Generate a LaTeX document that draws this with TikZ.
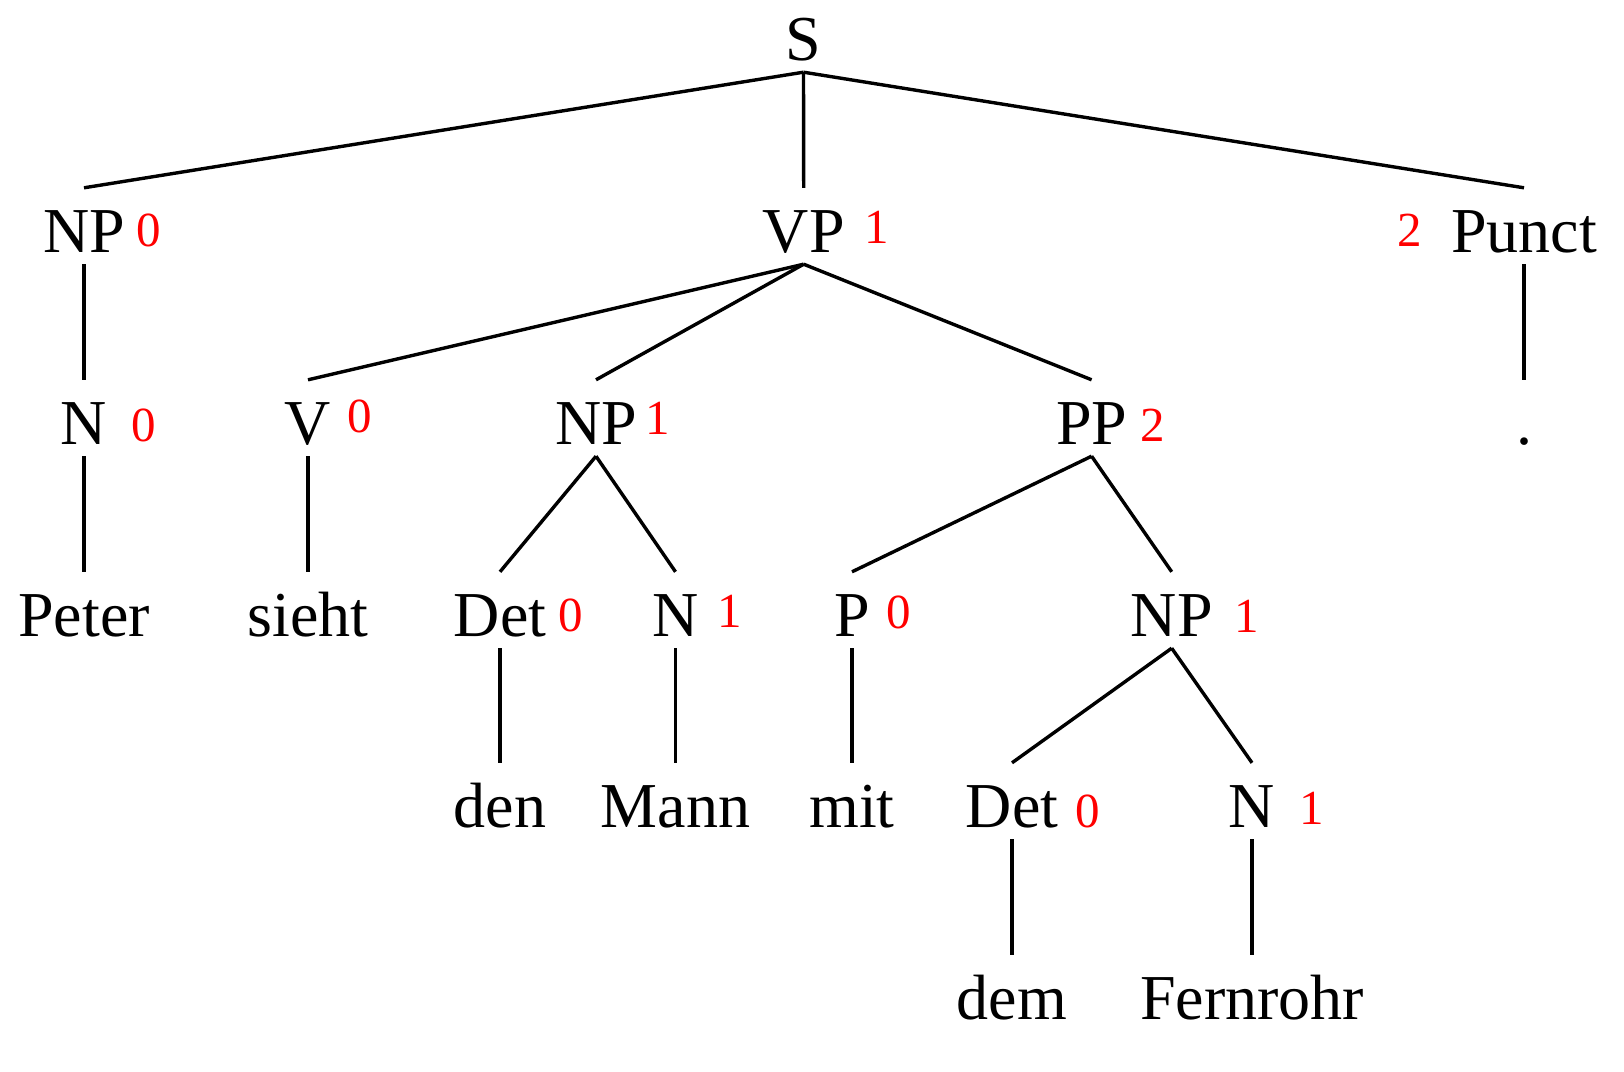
\documentclass[tikz,border=0pt]{standalone}
\usepackage{fontspec}
\setmainfont{Liberation Serif}
\usetikzlibrary{positioning}
\tikzset{
  cat/.style={anchor=base, inner sep=0pt, text height=64pt, text depth=12pt,
              font=\fontsize{64}{70}\selectfont},
  idx/.style={anchor=base, inner sep=0pt, text=red, font=\fontsize{49}{55}\selectfont},
  branch/.style={line width=3.4pt}
}
\begin{document}
\begin{tikzpicture}[x=1pt,y=1pt]
\useasboundingbox (0,0) rectangle (1624,-1071);
% categories and words
\node[cat] (s) at (803.5,-60) {S};
\node[cat] (np) at (84,-252) {NP};
\node[cat] (vp) at (803.7,-252) {VP};
\node[cat] (punct) at (1524,-252) {Punct};
\node[cat] (n) at (84,-444) {N};
\node[cat] (v) at (308,-444) {V};
\node[cat] (npb) at (596,-444) {NP};
\node[cat] (pp) at (1091.6,-444) {PP};
\node[cat] (dot) at (1524,-444) {.};
\node[cat] (peter) at (84,-636) {Peter};
\node[cat] (sieht) at (308,-636) {sieht};
\node[cat] (det) at (500,-636) {Det};
\node[cat] (nb) at (675.5,-636) {N};
\node[cat] (p) at (852,-636) {P};
\node[cat] (npc) at (1171.7,-636) {NP};
\node[cat] (den) at (500,-827) {den};
\node[cat] (mann) at (675.5,-827) {Mann};
\node[cat] (mit) at (852,-827) {mit};
\node[cat] (detb) at (1012,-827) {Det};
\node[cat] (nc) at (1252,-827) {N};
\node[cat] (dem) at (1012,-1019) {dem};
\node[cat] (fernrohr) at (1252,-1019) {Fernrohr};
% indices
\node[idx] (i-np) at (148.6,-246) {0};
\node[idx] (i-vp) at (876.7,-243.5) {1};
\node[idx] (i-punct) at (1410,-246) {2};
\node[idx] (i-n) at (144,-441) {0};
\node[idx] (i-v) at (360,-432) {0};
\node[idx] (i-npb) at (657.7,-434.6) {1};
\node[idx] (i-pp) at (1152.7,-441.5) {2};
\node[idx] (i-det) at (571,-631.4) {0};
\node[idx] (i-nb) at (729.7,-627) {1};
\node[idx] (i-p) at (899,-628) {0};
\node[idx] (i-npc) at (1247,-632.5) {1};
\node[idx] (i-detb) at (1087.5,-827) {0};
\node[idx] (i-nc) at (1312,-824) {1};
% branches
\foreach \a/\b in {s/np,s/vp,s/punct,np/n,vp/v,vp/npb,vp/pp,punct/dot,
                   n/peter,v/sieht,npb/det,npb/nb,pp/p,pp/npc,
                   det/den,nb/mann,p/mit,npc/detb,npc/nc,detb/dem,nc/fernrohr}{%
  \draw[branch] (\a.south) -- (\b.north);
}
\end{tikzpicture}
\end{document}
